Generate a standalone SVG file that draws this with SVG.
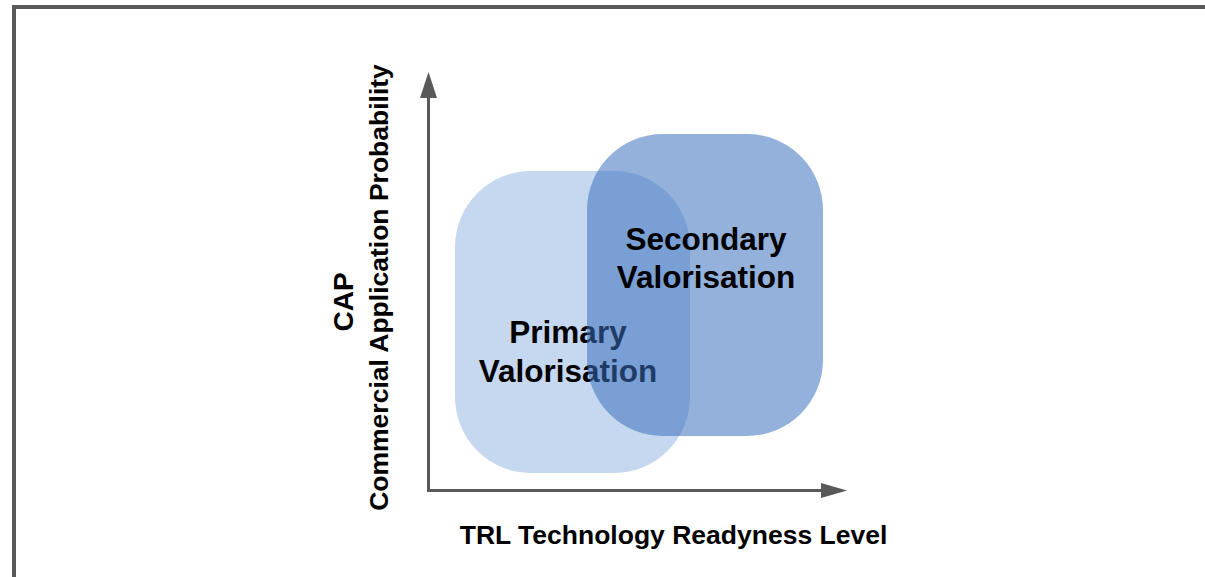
<svg xmlns="http://www.w3.org/2000/svg" width="1205" height="577" viewBox="0 0 1205 577">
  <style>
    .frame { stroke: #595959; stroke-width: 4; fill: none; }
    .axis { stroke: #595959; stroke-width: 3; fill: none; }
    .head { fill: #595959; }
    .lbl { font-family: "Liberation Sans", Arial, sans-serif; font-weight: bold; fill: #000; text-anchor: middle; }
  </style>
  <rect width="1205" height="577" fill="#ffffff"/>
  <!-- page frame (top and left edge) -->
  <path class="frame" d="M14 577 V7 H1205"/>

  <!-- axes -->
  <g id="connectors">
    <path class="axis" d="M428.5 491 V96"/>
    <polygon class="head" points="428.5,72 437,98 420,98"/>
    <path class="axis" d="M427 490.5 H823"/>
    <polygon class="head" points="847,490.5 821,483 821,498"/>
  </g>

  <!-- primary valorisation area -->
  <g id="primary">
    <rect x="455" y="171" width="235" height="302" rx="76" ry="76" fill="#c6d8ef"/>
    <text class="lbl" font-size="31.5" x="568" y="343">Primary</text>
    <text class="lbl" font-size="31.5" x="568" y="382">Valorisation</text>
  </g>

  <!-- secondary valorisation area, semi-transparent over the primary one -->
  <g id="secondary">
    <rect x="587" y="134" width="236" height="302" rx="76" ry="76" fill="#3a6fbe" fill-opacity="0.54"/>
    <text class="lbl" font-size="31.5" x="706" y="250">Secondary</text>
    <text class="lbl" font-size="31.5" x="706" y="288">Valorisation</text>
  </g>

  <!-- axis titles -->
  <g id="y-title">
    <text class="lbl" font-size="28" transform="translate(353 302) rotate(-90)">CAP</text>
    <text class="lbl" font-size="26.5" transform="translate(388 287.5) rotate(-90)">Commercial Application Probability</text>
  </g>
  <g id="x-title">
    <text class="lbl" font-size="26.5" x="673.5" y="544">TRL Technology Readyness Level</text>
  </g>
</svg>
